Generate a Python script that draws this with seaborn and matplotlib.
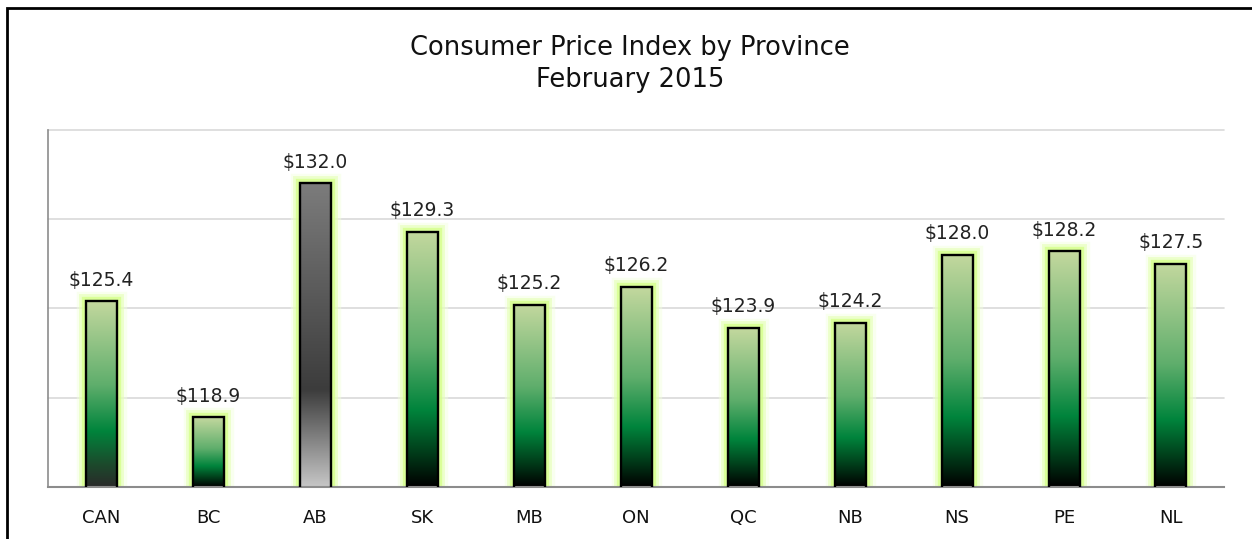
import numpy as np
import pandas as pd
import matplotlib
matplotlib.use("Agg")
import matplotlib.pyplot as plt
import matplotlib.patheffects as pe
from matplotlib.colors import LinearSegmentedColormap
from matplotlib.patches import Rectangle
import seaborn as sns

# data
provinces = ["CAN", "BC", "AB", "SK", "MB", "ON", "QC", "NB", "NS", "PE", "NL"]
cpi = [125.4, 118.9, 132.0, 129.3, 125.2, 126.2, 123.9, 124.2, 128.0, 128.2, 127.5]

df = pd.DataFrame({"prov": provinces, "cpi": cpi})

sns.set_style("white")
plt.rcParams["font.family"] = ["DejaVu Sans"]

fig = plt.figure(figsize=(12.52, 5.39), dpi=100)
ax = fig.add_axes([0.0383, 0.0965, 0.9397, 0.6625])

sns.barplot(data=df, x="prov", y="cpi", ax=ax, width=0.29,
            facecolor="none", edgecolor="black", linewidth=1.7, zorder=3)

ax.set_ylim(115, 135)
ax.set_xlim(-0.5, len(provinces) - 0.5)

# gradients (top -> bottom)
green = LinearSegmentedColormap.from_list(
    "g", [(0, "#c3d89e"), (0.45, "#5fae6c"), (0.7, "#00843c"), (0.85, "#00441d"), (1, "#000000")])
green_can = LinearSegmentedColormap.from_list(
    "gc", [(0, "#c3d89e"), (0.45, "#5fae6c"), (0.7, "#00843c"), (0.88, "#1c4a2c"), (1, "#2a2a2a")])
grey = LinearSegmentedColormap.from_list(
    "k", [(0, "#7c7c7c"), (0.68, "#3c3c3c"), (1, "#c6c6c6")])

grad = np.linspace(0, 1, 256).reshape(-1, 1)
for i, p in enumerate(ax.patches):
    x0, w = p.get_x(), p.get_width()
    cmap = grey if provinces[i] == "AB" else (green_can if provinces[i] == "CAN" else green)
    # soft glow around the bar
    glow = Rectangle((x0, 115), w, cpi[i] - 115, facecolor="none",
                     edgecolor="#d6ff8a", linewidth=1, zorder=1)
    glow.set_path_effects([pe.Stroke(linewidth=14, foreground="#f2ffdc", alpha=0.45),
                           pe.Stroke(linewidth=10, foreground="#e4ffb4", alpha=0.6),
                           pe.Stroke(linewidth=6, foreground="#d4ff88", alpha=0.75)])
    ax.add_patch(glow)
    im = ax.imshow(grad, cmap=cmap, aspect="auto", extent=(x0, x0 + w, 115, cpi[i]),
                   origin="upper", zorder=2, interpolation="bilinear")
    im.set_clip_path(p)
    ax.text(i, cpi[i] + 0.65, f"${cpi[i]:.1f}", ha="center", va="bottom",
            fontsize=13.5, color="#222222")

ax.set_yticks([120, 125, 130, 135])
ax.set_yticklabels([])
for gl in ax.yaxis.get_gridlines():
    gl.set_clip_on(False)
ax.yaxis.grid(True, color="#d9d9d9", linewidth=1.2)
ax.set_axisbelow(True)
ax.set_xlabel("")
ax.set_ylabel("")
ax.tick_params(axis="x", length=0, labelsize=13, pad=16, colors="#111111")
ax.tick_params(axis="y", length=0)
for s in ["top", "right"]:
    ax.spines[s].set_visible(False)
ax.spines["left"].set_color("#8c8c8c")
ax.spines["bottom"].set_color("#8c8c8c")
ax.spines["left"].set_linewidth(1.2)
ax.spines["bottom"].set_linewidth(1.5)

fig.text(0.503, 0.881, "Consumer Price Index by Province\nFebruary 2015",
         ha="center", va="center", fontsize=18.5, linespacing=1.33, color="#111111")

fig.patches.append(Rectangle((0.0052, -0.05), 1.2, 0.986 + 0.05, transform=fig.transFigure,
                             fill=False, edgecolor="black", linewidth=2, clip_on=False))

fig.savefig("out.png", dpi=100)
